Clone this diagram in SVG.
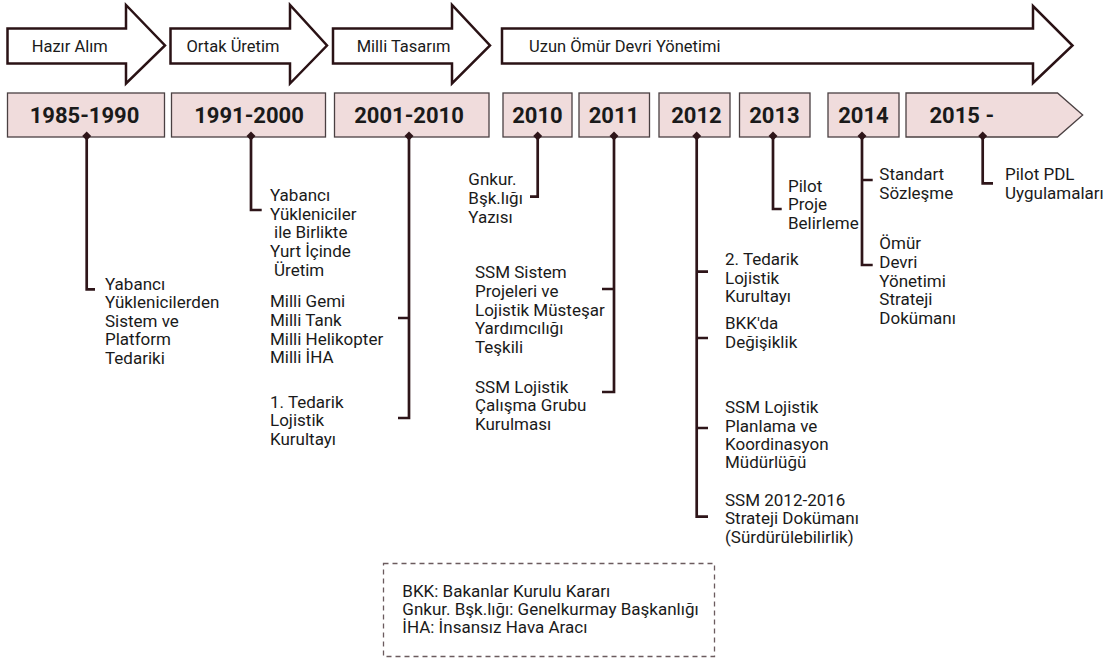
<svg xmlns="http://www.w3.org/2000/svg" width="1116" height="658" viewBox="0 0 1116 658">
<style>
.arrow{fill:#ffffff;stroke:#2a1215;stroke-width:2.5;stroke-linejoin:miter}
.box{fill:#f0dcdc;stroke:#4a4042;stroke-width:1.3}
.yr{font-family:Roboto,"Liberation Sans",sans-serif;font-weight:bold;font-size:22px;fill:#1a1a1a;text-anchor:middle}
.at{font-family:Roboto,"Liberation Sans",sans-serif;font-size:16.5px;fill:#1a1a1a}
.t{font-family:Roboto,"Liberation Sans",sans-serif;font-size:17px;fill:#1a1a1a}
.lt{font-family:Roboto,"Liberation Sans",sans-serif;font-size:17px;fill:#1a1a1a}
.conn{fill:none;stroke:#2e1519;stroke-width:2.7}
.dia{fill:#2e1519}
.leg{fill:none;stroke:#6b5b5e;stroke-width:1.3;stroke-dasharray:5,4}
</style>
<defs>
<path id="dm" d="M0,-4.5 L4.5,0 L0,4.5 L-4.5,0 Z"/>
</defs>
<g id="phases">
<g id="phase1"><polygon class="arrow" points="7.5,28.5 126,28.5 126,5 165,45.5 126,83.5 126,63.5 7.5,63.5"/><text class="at" x="31.7" y="51.7">Hazır Alım</text></g>
<g id="phase2"><polygon class="arrow" points="170.5,28.5 290,28.5 290,5 327,45.5 290,83.5 290,63.5 170.5,63.5"/><text class="at" x="186.5" y="51.7">Ortak Üretim</text></g>
<g id="phase3"><polygon class="arrow" points="333,28.5 452,28.5 452,5 490,45.5 452,83.5 452,63.5 333,63.5"/><text class="at" x="356.7" y="51.7">Milli Tasarım</text></g>
<g id="phase4"><polygon class="arrow" points="502,28.5 1033,28.5 1033,6 1072.5,45.5 1033,83 1033,63.5 502,63.5"/><text class="at" x="529" y="51.7">Uzun Ömür Devri Yönetimi</text></g>
</g>
<g id="connectors">
<path class="conn" d="M86.7,137 V289.3 H95"/>
<path class="conn" d="M251,137 V210 H261.7"/>
<path class="conn" d="M409,137 V418 H398 M398,318 H409"/>
<path class="conn" d="M537.7,137 V196.7 H530"/>
<path class="conn" d="M614,137 V392 H602 M602,289 H614"/>
<path class="conn" d="M696.7,137 V516.7 H708 M696.7,271.7 H708 M696.7,338 H708 M696.7,428 H708"/>
<path class="conn" d="M773,137 V209 H781.7"/>
<path class="conn" d="M862,137 V265 H872.7 M862,180 H872.7"/>
<path class="conn" d="M982.7,137 V183.3 H993"/>
</g>
<g id="y1985"><rect class="box" x="7.5" y="93" width="157" height="44"/><text class="yr" x="84.5" y="122.7">1985-1990</text><use href="#dm" class="dia" x="86.7" y="136"/>
<text class="t" x="105" y="290">Yabancı</text><text class="t" x="105" y="308.4">Yüklenicilerden</text><text class="t" x="105" y="326.8">Sistem ve</text><text class="t" x="105" y="345.2">Platform</text><text class="t" x="105" y="363.6">Tedariki</text></g>
<g id="y1991"><rect class="box" x="171.5" y="93" width="154" height="44"/><text class="yr" x="249" y="122.7">1991-2000</text><use href="#dm" class="dia" x="251" y="136"/>
<text class="t" x="270" y="201">Yabancı</text><text class="t" x="270" y="219.6">Yükleniciler</text><text class="t" x="274" y="238.3">ile Birlikte</text><text class="t" x="270" y="257">Yurt İçinde</text><text class="t" x="274" y="275.7">Üretim</text></g>
<g id="y2001"><rect class="box" x="334.5" y="93" width="154.5" height="44"/><text class="yr" x="409" y="122.7">2001-2010</text><use href="#dm" class="dia" x="409" y="136"/>
<text class="t" x="270" y="307.3">Milli Gemi</text><text class="t" x="270" y="326">Milli Tank</text><text class="t" x="270" y="344.7">Milli Helikopter</text><text class="t" x="270" y="363.4">Milli İHA</text>
<text class="t" x="270" y="407.7">1. Tedarik</text><text class="t" x="270" y="426.3">Lojistik</text><text class="t" x="270" y="445">Kurultayı</text></g>
<g id="y2010"><rect class="box" x="503" y="93" width="69" height="44"/><text class="yr" x="537.5" y="122.7">2010</text><use href="#dm" class="dia" x="537.7" y="136"/>
<text class="t" x="468.3" y="185">Gnkur.</text><text class="t" x="468.3" y="203.8">Bşk.lığı</text><text class="t" x="468.3" y="222.6">Yazısı</text></g>
<g id="y2011"><rect class="box" x="579" y="93" width="70.5" height="44"/><text class="yr" x="614" y="122.7">2011</text><use href="#dm" class="dia" x="614" y="136"/>
<text class="t" x="475" y="278.3">SSM Sistem</text><text class="t" x="475" y="297">Projeleri ve</text><text class="t" x="475" y="315.7">Lojistik Müsteşar</text><text class="t" x="475" y="334.3">Yardımcılığı</text><text class="t" x="475" y="353">Teşkili</text>
<text class="t" x="475" y="392.7">SSM Lojistik</text><text class="t" x="475" y="411.3">Çalışma Grubu</text><text class="t" x="475" y="430">Kurulması</text></g>
<g id="y2012"><rect class="box" x="659" y="93" width="71" height="44"/><text class="yr" x="696.5" y="122.7">2012</text><use href="#dm" class="dia" x="696.7" y="136"/>
<text class="t" x="725" y="265">2. Tedarik</text><text class="t" x="725" y="283.5">Lojistik</text><text class="t" x="725" y="302">Kurultayı</text>
<text class="t" x="725" y="329.3">BKK'da</text><text class="t" x="725" y="347.8">Değişiklik</text>
<text class="t" x="725" y="413.3">SSM Lojistik</text><text class="t" x="725" y="431.7">Planlama ve</text><text class="t" x="725" y="450">Koordinasyon</text><text class="t" x="725" y="468.4">Müdürlüğü</text>
<text class="t" x="725" y="506">SSM 2012-2016</text><text class="t" x="725" y="524.4">Strateji Dokümanı</text><text class="t" x="725" y="542.8">(Sürdürülebilirlik)</text></g>
<g id="y2013"><rect class="box" x="739.5" y="93" width="70.5" height="44"/><text class="yr" x="774.5" y="122.7">2013</text><use href="#dm" class="dia" x="773" y="136"/>
<text class="t" x="788" y="191.7">Pilot</text><text class="t" x="788" y="210.4">Proje</text><text class="t" x="788" y="229.1">Belirleme</text></g>
<g id="y2014"><rect class="box" x="828" y="93" width="71" height="44"/><text class="yr" x="863.5" y="122.7">2014</text><use href="#dm" class="dia" x="862" y="136"/>
<text class="t" x="879.3" y="180">Standart</text><text class="t" x="879.3" y="198.8">Sözleşme</text>
<text class="t" x="879.3" y="249.3">Ömür</text><text class="t" x="879.3" y="268">Devri</text><text class="t" x="879.3" y="286.7">Yönetimi</text><text class="t" x="879.3" y="305.4">Strateji</text><text class="t" x="879.3" y="324.1">Dokümanı</text></g>
<g id="y2015"><polygon class="box" points="906,93 1057.5,93 1082.7,115 1057.5,137 906,137"/><text class="yr" x="929.5" y="122.7" style="text-anchor:start">2015 -</text><use href="#dm" class="dia" x="982.7" y="136"/>
<text class="t" x="1005" y="180">Pilot PDL</text><text class="t" x="1005" y="198.5">Uygulamaları</text></g>
<g id="legend"><rect class="leg" x="383.5" y="563.5" width="331" height="93"/>
<text class="lt" x="402.3" y="597">BKK: Bakanlar Kurulu Kararı</text><text class="lt" x="402.3" y="615.2">Gnkur. Bşk.lığı: Genelkurmay Başkanlığı</text><text class="lt" x="402.3" y="633.4">İHA: İnsansız Hava Aracı</text></g>
</svg>
